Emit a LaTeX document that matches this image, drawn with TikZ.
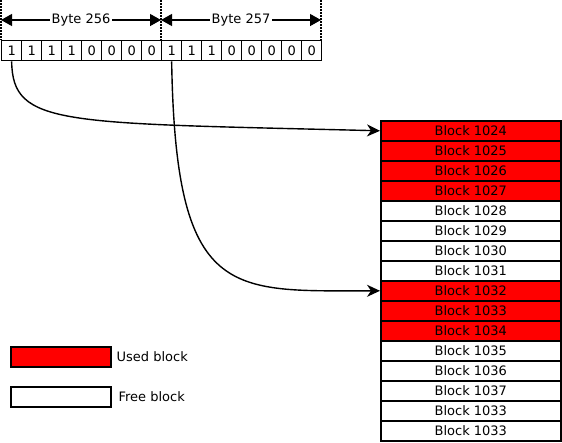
\documentclass[tikz,border=0pt]{standalone}
\usepackage{fontspec}
\setmainfont{DejaVu Sans}
\usetikzlibrary{arrows.meta}
\usetikzlibrary{positioning}

\tikzset{
  bitbox/.style={draw, line width=1.3pt, minimum width=20pt, minimum height=20pt, inner sep=0, anchor=north west},
  blockbox/.style={draw, line width=1.6pt, minimum width=180pt, minimum height=20pt, inner sep=0, anchor=north west},
  keybox/.style={draw, line width=1.6pt, minimum width=100pt, minimum height=20pt, inner sep=0, anchor=north west},
  bytedim/.style={{Triangle[length=11pt,width=12pt]}-{Triangle[length=11pt,width=12pt]}, line width=1.3pt},
  pointer/.style={-{Stealth[length=13pt,width=12pt,inset=4pt]}, line width=1.4pt},
}

\begin{document}
\begin{tikzpicture}[x=1pt, y=-1pt, font=\fontsize{13}{15}\selectfont]
        \useasboundingbox (0,0) rectangle (562,442);
        % bits of the two bytes
        \foreach \b [count=\i from 0] in {1,1,1,1,0,0,0,0,1,1,1,0,0,0,0,0}
            \node[bitbox] (bit\i) at (1+20*\i,40) {\b};
        \node[bitbox, draw=none, minimum width=0pt] (bitend) at (321,40) {};
        % byte boundaries
        \coordinate (top0) at (1,0);
        \coordinate (top1) at (161,0);
        \coordinate (top2) at (321,0);
        \draw[line width=1.3pt, dash pattern=on 1.5pt off 1.5pt] (top0) -- (bit0.north west);
        \draw[line width=1.3pt, dash pattern=on 1.5pt off 1.5pt] (top1) -- (bit8.north west);
        \draw[line width=1.3pt, dash pattern=on 1.5pt off 1.5pt] (top2) -- (bitend.north west);
        \coordinate (dim0) at (1,20);
        \coordinate (dim1) at (161,20);
        \coordinate (dim2) at (321,20);
        \draw[bytedim] (dim0) -- node[fill=white, inner sep=1.5pt] {Byte 256} (dim1);
        \draw[bytedim] (dim1) -- node[fill=white, inner sep=1.5pt] {Byte 257} (dim2);
        % blocks
        \foreach \n/\c [count=\i from 0] in {1024/red,1025/red,1026/red,1027/red,1028/white,1029/white,1030/white,1031/white,1032/red,1033/red,1034/red,1035/white,1036/white,1037/white,1033/white,1033/white}
            \node[blockbox, fill=\c] (blk\i) at (380,120+20*\i) {Block \n};
        % pointers
        \draw[pointer] (bit0.south) .. controls +(1,65) and +(-320,-8) .. (blk0.west);
        \draw[pointer] (bit8.south) .. controls +(4,240) and +(-150,0) .. (blk8.west);
        % legend
        \node[keybox, fill=red] (usedkey) at (10,346) {};
        \node[right=1.5pt of usedkey] (usedtext) {Used block};
        \node[keybox, fill=white] (freekey) at (10,386) {};
        \node[right=3.5pt of freekey] (freetext) {Free block};
    \end{tikzpicture}
\end{document}
